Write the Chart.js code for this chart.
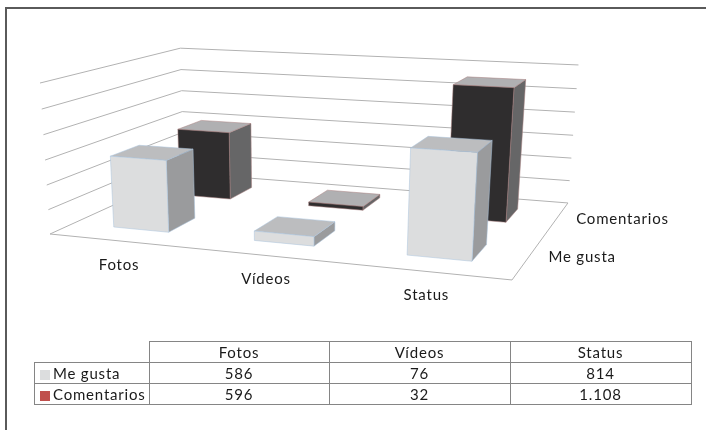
<!DOCTYPE html>
<html>
<head>
<meta charset="utf-8">
<script src="https://cdn.jsdelivr.net/npm/chart.js@4"></script>
<style>
  html, body { margin: 0; padding: 0; background: #fff; }
  #wrap { position: relative; width: 706px; height: 430px; overflow: hidden; }
  #frame { position: absolute; left: 5px; top: 7px; width: 720px; height: 440px; border: 1px solid #5a5a5a; border-width: 2px 0 0 2px; box-sizing: border-box; }
  canvas { position: absolute; left: 0; top: 0; }
  #dataTable {
    position: absolute; left: 34px; top: 341px; border-collapse: collapse; table-layout: fixed;
    font: 15px Lato, sans-serif; color: #1a1a1a; letter-spacing: .8px;
  }
  #dataTable td { border: 1px solid #858585; height: 20px; padding: 0; text-align: center; line-height: 20px; white-space: nowrap; overflow: hidden; }
  #dataTable td.blank { border: 0; }
  #dataTable td.key { text-align: left; padding-left: 5px; }
  .swatch { display: inline-block; width: 10px; height: 10px; margin-right: 3px; vertical-align: -1px; }
</style>
</head>
<body>
<div id="wrap">
  <div id="frame"></div>
  <canvas id="myChart" width="706" height="430"></canvas>
  <table id="dataTable"></table>
</div>
<script>
const categories = ['Fotos', 'Vídeos', 'Status']
const meGusta = [586, 76, 814]
const comentarios = [596, 32, 1108]
const tickStep = 200
const axisMax = 1200

const seriesNames = ['Me gusta', 'Comentarios']
const swatchColors = ['#dcddde', '#c0504d']
const faceColors = [
  { front: '#dcddde', top: '#bcbdbf', side: '#9a9b9d', edge: '#a9c2dd' },
  { front: '#2f2d2e', top: '#b0b0b2', side: '#666667', edge: '#a98080' },
]
const GRID_COLOR = '#b2b2b2'
const LABEL_FONT = '15px Lato, sans-serif'
const LABEL_COLOR = '#1a1a1a'

// gapDepth 150: each bar fills 1/2.5 of its slot on the depth axis
const BAR_FILL = 0.4

// perspective matrix fitted on the corners of the plot box
function project(u, v, w) {
  const den = -0.1217 * u + 0.2209 * v - 0.04 * w + 1
  return {
    x: (399.7 * u + 174.6 * v - 11.6 * w + 50) / den,
    y: (11.9 * u - 22.8 * v - 154.3 * w + 234) / den,
  }
}

function poly(ctx, pts, fill, stroke) {
  ctx.beginPath()
  pts.forEach((p, i) => (i ? ctx.lineTo(p.x, p.y) : ctx.moveTo(p.x, p.y)))
  ctx.closePath()
  if (fill) { ctx.fillStyle = fill; ctx.fill() }
  if (stroke) { ctx.strokeStyle = stroke; ctx.lineWidth = 0.5; ctx.stroke() }
}

function line(ctx, pts) {
  ctx.beginPath()
  pts.forEach((p, i) => (i ? ctx.lineTo(p.x, p.y) : ctx.moveTo(p.x, p.y)))
  ctx.stroke()
}

function drawWalls(chart, ctx) {
  const yScale = chart.scales.y
  ctx.strokeStyle = GRID_COLOR
  ctx.lineWidth = 1
  yScale.ticks.forEach(t => {
    const w = t.value / axisMax
    line(ctx, [project(0, 0, w), project(0, 1, w), project(1, 1, w)])
  })
  line(ctx, [project(0, 0, 0), project(1, 0, 0), project(1, 1, 0)])
}

function drawBar(chart, ctx, bar, seriesIdx) {
  const area = chart.chartArea
  const u0 = (bar.x - bar.width / 2 - area.left) / area.width
  const u1 = (bar.x + bar.width / 2 - area.left) / area.width
  const w = (bar.base - bar.y) / area.height
  const slot = 1 / seriesNames.length
  const v0 = (seriesIdx + (1 - BAR_FILL) / 2) * slot
  const v1 = v0 + BAR_FILL * slot
  const c = faceColors[seriesIdx]
  poly(ctx, [project(u1, v0, 0), project(u1, v1, 0), project(u1, v1, w), project(u1, v0, w)], c.side, c.edge)
  poly(ctx, [project(u0, v0, w), project(u1, v0, w), project(u1, v1, w), project(u0, v1, w)], c.top, c.edge)
  poly(ctx, [project(u0, v0, 0), project(u1, v0, 0), project(u1, v0, w), project(u0, v0, w)], c.front, c.edge)
}

function drawLabels(chart, ctx) {
  ctx.font = LABEL_FONT
  ctx.fillStyle = LABEL_COLOR
  ctx.textBaseline = 'middle'
  ctx.letterSpacing = '0.8px'
  ctx.textAlign = 'center'
  const area = chart.chartArea
  chart.getDatasetMeta(0).data.forEach((bar, i) => {
    const p = project((bar.x - area.left) / area.width, 0, 0)
    ctx.fillText(categories[i], p.x, p.y + 24)
  })
  ctx.textAlign = 'left'
  seriesNames.forEach((name, i) => {
    const p = project(1, (i + 0.5) / seriesNames.length, 0)
    ctx.fillText(name, p.x + 20, p.y)
  })
}

const perspectivePlugin = {
  id: 'perspective',
  afterDatasetsDraw(chart) {
    const ctx = chart.ctx
    ctx.save()
    drawWalls(chart, ctx)
    // back row first so the front row covers it
    for (let s = seriesNames.length - 1; s >= 0; s--) {
      chart.getDatasetMeta(s).data.forEach(bar => drawBar(chart, ctx, bar, s))
    }
    drawLabels(chart, ctx)
    ctx.restore()
  },
}

new Chart(document.getElementById('myChart'), {
  type: 'bar',
  data: {
    labels: categories,
    datasets: [
      { label: seriesNames[0], data: meGusta, backgroundColor: 'transparent', grouped: false },
      { label: seriesNames[1], data: comentarios, backgroundColor: 'transparent', grouped: false },
    ],
  },
  options: {
    responsive: false,
    animation: false,
    layout: { padding: 0 },
    datasets: { bar: { barPercentage: BAR_FILL, categoryPercentage: 1 } },
    plugins: { legend: { display: false }, tooltip: { enabled: false } },
    scales: {
      x: { display: false },
      y: { display: false, min: 0, max: axisMax, ticks: { stepSize: tickStep } },
    },
  },
  plugins: [perspectivePlugin],
})

function fmt(n) {
  return n >= 1000 ? String(n).replace(/(\d)(\d{3})$/, '$1.$2') : String(n)
}

function buildTable() {
  const rows = [
    `<tr><td class="blank" style="width:114px"></td>${categories.map((c, i) => `<td style="width:${i === 0 ? 179 : 180}px">${c}</td>`).join('')}</tr>`,
  ]
  ;[meGusta, comentarios].forEach((vals, s) => {
    rows.push(`<tr><td class="key"><span class="swatch" style="background:${swatchColors[s]}"></span>${seriesNames[s]}</td>${vals.map(v => `<td>${fmt(v)}</td>`).join('')}</tr>`)
  })
  document.getElementById('dataTable').innerHTML = rows.join('')
}
buildTable()
</script>
</body>
</html>
